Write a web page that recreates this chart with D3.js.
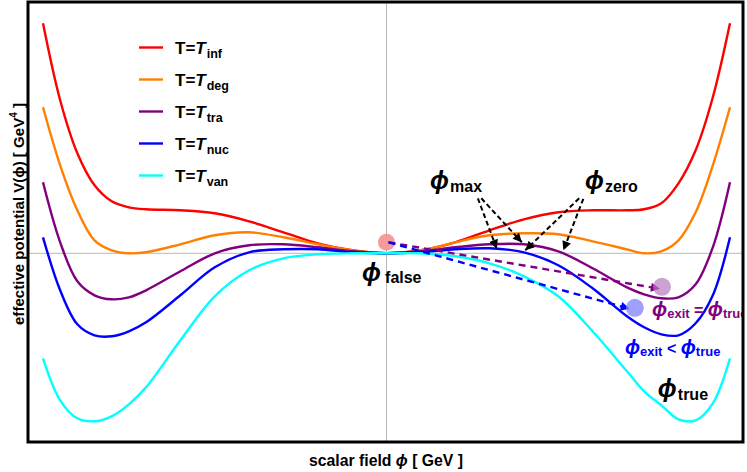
<!DOCTYPE html>
<html>
<head>
<meta charset="utf-8">
<script src="https://cdn.jsdelivr.net/npm/d3@7/dist/d3.min.js"></script>
<style>
  html, body { margin: 0; padding: 0; background: #fff; }
  svg { display: block; font-family: "Liberation Sans", Arial, sans-serif; font-weight: bold; }
</style>
</head>
<body>
<div id="chart"></div>
<script>
// ========= DATA =========
// scalar field grid (arbitrary units, false vacuum at 0)
const phi = [-1, -0.95, -0.9, -0.85, -0.8, -0.75, -0.7, -0.6, -0.5, -0.4, -0.3, -0.2, -0.1, 0,
             0.1, 0.2, 0.3, 0.4, 0.5, 0.6, 0.7, 0.75, 0.8, 0.85, 0.9, 0.95, 1];

// effective potential for each temperature (arbitrary units)
const V_inf = [2.30, 1.53, 1.00, 0.68, 0.52, 0.46, 0.44, 0.43, 0.40, 0.32, 0.21, 0.10, 0.03, 0,
               0.03, 0.11, 0.23, 0.34, 0.41, 0.43, 0.43, 0.44, 0.50, 0.70, 1.03, 1.56, 2.30];
const V_deg = [1.46, 0.88, 0.43, 0.13, 0.03, 0.00, 0.01, 0.09, 0.18, 0.21, 0.16, 0.09, 0.03, 0,
               0.03, 0.11, 0.18, 0.20, 0.19, 0.12, 0.04, 0.00, 0.02, 0.13, 0.41, 0.88, 1.46];
const V_tra = [0.71, 0.11, -0.28, -0.42, -0.46, -0.44, -0.37, -0.18, 0.00, 0.08, 0.09, 0.06, 0.02, 0,
               0.02, 0.06, 0.09, 0.09, 0.02, -0.15, -0.34, -0.41, -0.45, -0.44, -0.31, 0.06, 0.71];
const V_nuc = [0.16, -0.37, -0.71, -0.82, -0.83, -0.78, -0.69, -0.42, -0.14, 0.01, 0.04, 0.04, 0.01, 0,
               0.01, 0.04, 0.05, 0.01, -0.12, -0.35, -0.63, -0.74, -0.81, -0.82, -0.70, -0.42, 0.16];
const V_van = [-1.05, -1.47, -1.65, -1.68, -1.63, -1.51, -1.34, -0.87, -0.43, -0.17, -0.05, -0.01, 0, 0,
               0, -0.03, -0.10, -0.23, -0.43, -0.78, -1.18, -1.38, -1.52, -1.66, -1.67, -1.50, -1.05];

const seriesSub   = ["inf", "deg", "tra", "nuc", "van"];
const seriesVals  = [V_inf, V_deg, V_tra, V_nuc, V_van];
const seriesColor = ["#ff0000", "#ff8000", "#800080", "#0000ff", "#00ffff"];

// annotation anchors, in (phi, V)
const falseVac = { phi: 0, V: 0.11 };
const exitEq   = { phi: 0.802, V: -0.335 };
const exitLt   = { phi: 0.723, V: -0.545 };
const tunnelArrows = [
  { from: falseVac, to: { phi: 0.796, V: -0.355 }, color: "#800080" },
  { from: falseVac, to: { phi: 0.708, V: -0.555 }, color: "#0000ff" }
];
const pointerArrows = [
  { from: { phi: 0.266, V: 0.55 }, to: { phi: 0.321, V: 0.045 } },
  { from: { phi: 0.276, V: 0.55 }, to: { phi: 0.394, V: 0.11 } },
  { from: { phi: 0.561, V: 0.55 }, to: { phi: 0.404, V: 0.03 } },
  { from: { phi: 0.573, V: 0.545 }, to: { phi: 0.515, V: 0.03 } }
];

// ========= LAYOUT =========
const W = 747, H = 472;
const frame = { x0: 28, x1: 743, y0: 2, y1: 442 };

const svg = d3.select("#chart").append("svg")
  .attr("width", W).attr("height", H);

const x = d3.scaleLinear().domain([-1, 1]).range([43, 730]);
const y = d3.scaleLinear().domain([-1.7, 2.3]).range([423.3, 23.3]);

svg.append("clipPath").attr("id", "clip")
  .append("rect")
  .attr("x", frame.x0).attr("y", frame.y0)
  .attr("width", frame.x1 - frame.x0).attr("height", frame.y1 - frame.y0);

const g = svg.append("g").attr("clip-path", "url(#clip)");

// axes through origin
g.append("line")
  .attr("x1", frame.x0).attr("x2", frame.x1)
  .attr("y1", y(0)).attr("y2", y(0))
  .attr("stroke", "#b8b8b8").attr("stroke-width", 1);
g.append("line")
  .attr("x1", x(0)).attr("x2", x(0))
  .attr("y1", frame.y0).attr("y2", frame.y1)
  .attr("stroke", "#b8b8b8").attr("stroke-width", 1);

// curves
const line = d3.line()
  .x((d, i) => x(phi[i]))
  .y(d => y(d))
  .curve(d3.curveCatmullRom.alpha(0.5));

g.selectAll("path.curve")
  .data(seriesVals)
  .join("path")
  .attr("class", "curve")
  .attr("fill", "none")
  .attr("stroke", (d, i) => seriesColor[i])
  .attr("stroke-width", 2.4)
  .attr("d", line);

// arrow heads
const defs = svg.append("defs");
function marker(id, color){
  defs.append("marker")
    .attr("id", id)
    .attr("viewBox", "0 -5 10 10")
    .attr("refX", 10).attr("refY", 0)
    .attr("markerUnits", "userSpaceOnUse")
    .attr("markerWidth", 11).attr("markerHeight", 9)
    .attr("orient", "auto")
    .append("path")
    .attr("d", "M0,-5L10,0L0,5Z")
    .attr("fill", color);
}
marker("ah-k", "#000");
marker("ah-p", "#800080");
marker("ah-b", "#0000ff");

// bubbles
g.append("circle").attr("cx", x(falseVac.phi)).attr("cy", y(falseVac.V)).attr("r", 8.5)
  .attr("fill", "#f59696").attr("fill-opacity", 0.95);

// tunnelling arrows
g.selectAll("line.tunnel")
  .data(tunnelArrows)
  .join("line")
  .attr("class", "tunnel")
  .attr("x1", d => x(d.from.phi) + 2).attr("y1", d => y(d.from.V))
  .attr("x2", d => x(d.to.phi)).attr("y2", d => y(d.to.V))
  .attr("stroke", d => d.color)
  .attr("stroke-width", 2.4)
  .attr("stroke-dasharray", "7,5")
  .attr("marker-end", d => d.color === "#800080" ? "url(#ah-p)" : "url(#ah-b)");

g.append("circle").attr("cx", x(exitEq.phi)).attr("cy", y(exitEq.V)).attr("r", 9)
  .attr("fill", "#b57bbd").attr("fill-opacity", 0.7);
g.append("circle").attr("cx", x(exitLt.phi)).attr("cy", y(exitLt.V)).attr("r", 9)
  .attr("fill", "#8080ff").attr("fill-opacity", 0.75);

// pointer arrows
g.selectAll("line.ptr")
  .data(pointerArrows)
  .join("line")
  .attr("class", "ptr")
  .attr("x1", d => x(d.from.phi)).attr("y1", d => y(d.from.V))
  .attr("x2", d => x(d.to.phi)).attr("y2", d => y(d.to.V))
  .attr("stroke", "#000")
  .attr("stroke-width", 2)
  .attr("stroke-dasharray", "5,3")
  .attr("marker-end", "url(#ah-k)");

// phi labels
function phiLabel(px, py, sub, color, big, small, shift){
  const t = g.append("text").attr("x", px).attr("y", py).attr("fill", color);
  t.append("tspan").attr("font-size", big).attr("font-style", "italic").text("ϕ");
  t.append("tspan").attr("font-size", small).attr("dy", shift).attr("dx", 1).text(sub);
  return t;
}
phiLabel(x(0.127), y(0.64), "max", "#000", 25, 16, 3);
phiLabel(x(0.578), y(0.64), "zero", "#000", 25, 16, 3);
phiLabel(x(-0.071), y(-0.28), "false", "#000", 25, 16, 2).select("tspan:nth-child(2)").attr("dx", 4);
phiLabel(x(0.79), y(-1.44), "true", "#000", 25, 16, 3);

function exitLabel(px, py, op, color){
  const t = g.append("text").attr("x", px).attr("y", py).attr("fill", color);
  t.append("tspan").attr("font-size", 20).attr("font-style", "italic").text("ϕ");
  t.append("tspan").attr("font-size", 13).attr("dy", 2).text("exit");
  t.append("tspan").attr("font-size", 16).attr("dy", -2).text(" " + op + " ");
  t.append("tspan").attr("font-size", 20).attr("font-style", "italic").text("ϕ");
  t.append("tspan").attr("font-size", 13).attr("dy", 2).text("true");
}
exitLabel(x(0.773), y(-0.63), "=", "#800080");
exitLabel(x(0.694), y(-1.01), "<", "#0000ff");

// frame
svg.append("rect")
  .attr("x", frame.x0).attr("y", frame.y0)
  .attr("width", frame.x1 - frame.x0).attr("height", frame.y1 - frame.y0)
  .attr("fill", "none").attr("stroke", "#000").attr("stroke-width", 3);

// legend
const leg = svg.append("g").selectAll("g")
  .data(seriesSub)
  .join("g")
  .attr("transform", (d, i) => `translate(139,${47.5 + i * 32})`);
leg.append("line")
  .attr("x1", 0).attr("x2", 24)
  .attr("stroke", (d, i) => seriesColor[i]).attr("stroke-width", 2.4);
const lt = leg.append("text").attr("x", 36).attr("y", 6).attr("font-size", 17);
lt.append("tspan").text("T=");
lt.append("tspan").attr("font-style", "italic").text("T");
lt.append("tspan").attr("font-size", 12.5).attr("dy", 4).attr("dx", 1).text(d => d);

// axis labels
svg.append("text")
  .attr("x", 386).attr("y", 466)
  .attr("text-anchor", "middle").attr("font-size", 16)
  .attr("textLength", 154).attr("lengthAdjust", "spacingAndGlyphs")
  .html('scalar field <tspan font-style="italic">ϕ</tspan> [ GeV ]');

const yl = svg.append("text")
  .attr("transform", "translate(24,214) rotate(-90)")
  .attr("text-anchor", "middle").attr("font-size", 15)
  .attr("textLength", 222).attr("lengthAdjust", "spacing");
yl.append("tspan").text("effective  potential V(ϕ) [ GeV");
yl.append("tspan").attr("font-size", 10).attr("dy", -7).text("4");
yl.append("tspan").attr("dy", 7).text(" ]");
</script>
</body>
</html>
